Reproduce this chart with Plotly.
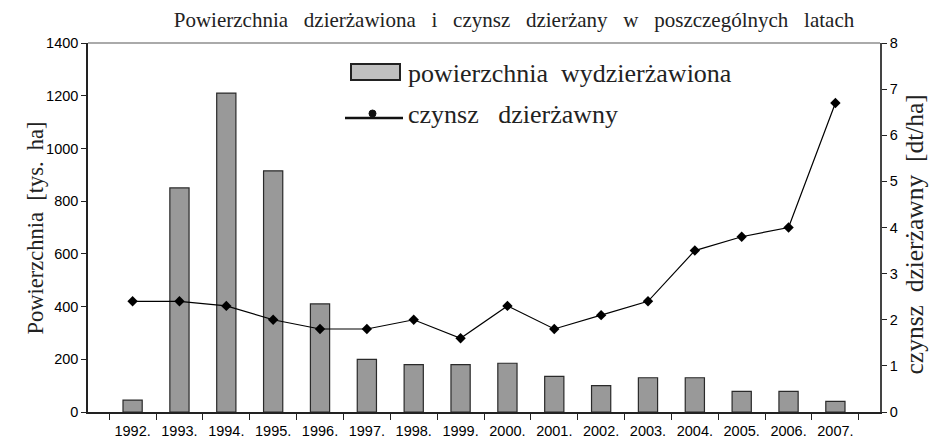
import plotly.graph_objects as go

years = ["1992.", "1993.", "1994.", "1995.", "1996.", "1997.", "1998.", "1999.",
         "2000.", "2001.", "2002.", "2003.", "2004.", "2005.", "2006.", "2007."]
area = [45, 850, 1210, 915, 410, 200, 180, 180, 185, 135, 100, 130, 130, 78, 78, 40]
rent = [2.4, 2.4, 2.3, 2.0, 1.8, 1.8, 2.0, 1.6, 2.3, 1.8, 2.1, 2.4, 3.5, 3.8, 4.0, 6.7]

title_text = "Powierzchnia dzierżawiona i czynsz dzierżany w poszczególnych latach"
left_title = "Powierzchnia [tys. ha]"
right_title = "czynsz dzierżawny [dt/ha]"
bar_name = "powierzchnia wydzierżawiona"
line_name = "czynsz dzierżawny"

serif = "Liberation Serif, Times New Roman, serif"
sans = "Liberation Sans, Arial, sans-serif"


def spaced(s, n=3):
    return s.replace(" ", "\u00a0" * (n - 1) + " ")


# page has an 8px body margin: figure occupies page 8..948 x 8..446
OFF = 8
W, H = 948 - OFF, 446 - OFF
# plot area in page pixels
P_L, P_R, P_T, P_B = 88, 880, 43, 412
L, R, T, B = P_L - OFF, 948 - P_R, P_T - OFF, 446 - P_B
PW, PH = P_R - P_L, P_B - P_T


def px(x):
    return (x - P_L) / PW


def py(y):
    return (P_B - y) / PH


fig = go.Figure()
fig.add_trace(go.Bar(
    x=years, y=area, name=bar_name,
    marker=dict(color="#999999", line=dict(color="#2a2a2a", width=1.2)),
    yaxis="y",
))
fig.add_trace(go.Scatter(
    x=years, y=rent, name=line_name, mode="lines+markers",
    line=dict(color="black", width=1.2),
    marker=dict(symbol="diamond", size=8, color="black"),
    yaxis="y2",
))

fig.update_layout(
    width=W, height=H,
    margin=dict(l=L, r=R, t=T, b=B),
    paper_bgcolor="white", plot_bgcolor="white",
    bargap=0.59,
    showlegend=False,
    title=dict(text=spaced(title_text, 3),
               font=dict(family=serif, size=21, color="#222"),
               x=(514 - OFF) / W, xanchor="center", xref="container",
               y=1 - (19.5 - OFF) / H, yanchor="middle", yref="container"),
    xaxis=dict(type="category", showline=True, linecolor="#222", linewidth=1.5,
               ticks="outside", tickson="boundaries", ticklen=6, tickcolor="#222",
               tickfont=dict(family=sans, size=14.5, color="black"),
               ticklabelstandoff=5,
               showgrid=False, zeroline=False, automargin=False),
    yaxis=dict(range=[0, 1400], dtick=200, showline=True, linecolor="#222", linewidth=1.5,
               ticks="outside", ticklen=5, tickcolor="#222",
               tickfont=dict(family=sans, size=14.5, color="black"),
               showgrid=False, zeroline=False, automargin=False),
    yaxis2=dict(range=[0, 8], dtick=1, overlaying="y", side="right",
                showline=True, linecolor="#444", linewidth=1.5,
                ticks="outside", ticklen=5, tickcolor="#222",
                tickfont=dict(family=sans, size=14.5, color="black"),
                showgrid=False, zeroline=False, automargin=False),
)

# top frame line
fig.add_shape(type="line", xref="paper", yref="paper", x0=0, x1=1, y0=1, y1=1,
              line=dict(color="#aaaaaa", width=2))

# axis titles
fig.add_annotation(text=spaced(left_title, 2), xref="paper", yref="paper",
                   x=px(21), y=py(228), textangle=-90, showarrow=False,
                   font=dict(family=serif, size=22.5, color="#222"))
fig.add_annotation(text=spaced(right_title, 2), xref="paper", yref="paper",
                   x=px(931), y=py(235), textangle=-90, showarrow=False,
                   font=dict(family=serif, size=25.5, color="#222"))

# legend (drawn)
fig.add_shape(type="rect", xref="paper", yref="paper",
              x0=px(351), x1=px(400), y0=py(80), y1=py(64),
              fillcolor="#c0c0c0", line=dict(color="#222", width=2))
fig.add_shape(type="line", xref="paper", yref="paper",
              x0=px(345), x1=px(403), y0=py(118), y1=py(118),
              line=dict(color="#111", width=2.5))
fig.add_shape(type="circle", xref="paper", yref="paper",
              x0=px(369), x1=px(376), y0=py(117), y1=py(110),
              fillcolor="#111", line=dict(color="#111", width=1))
fig.add_annotation(text=spaced(bar_name, 2), xref="paper", yref="paper",
                   x=px(406), y=py(73), xanchor="left", yanchor="middle",
                   showarrow=False, font=dict(family=serif, size=26, color="#222"))
fig.add_annotation(text=spaced(line_name, 3), xref="paper", yref="paper",
                   x=px(406), y=py(115), xanchor="left", yanchor="middle",
                   showarrow=False, font=dict(family=serif, size=26, color="#222"))

fig.write_html("out.html")
